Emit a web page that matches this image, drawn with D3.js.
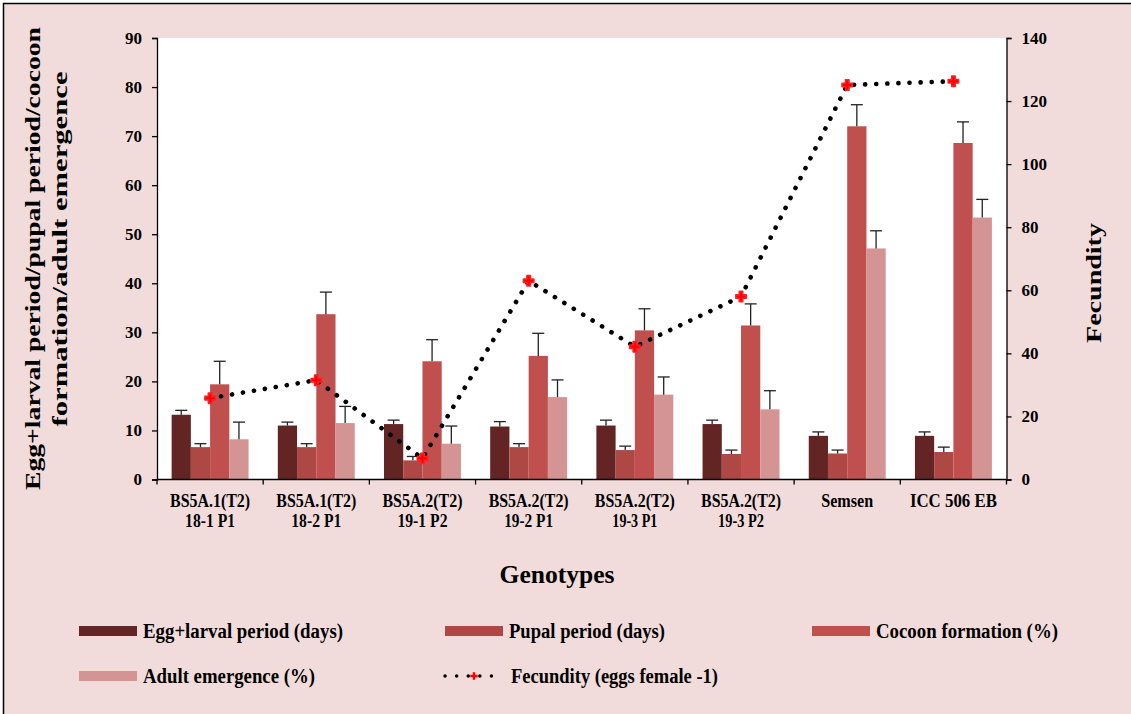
<!DOCTYPE html>
<html>
<head>
<meta charset="utf-8">
<script src="https://cdn.jsdelivr.net/npm/d3@7/dist/d3.min.js"></script>
<style>
  html, body { margin: 0; padding: 0; background: #ffffff; }
  svg { display: block; }
  text { font-family: "Liberation Serif", "Times New Roman", serif; font-weight: bold; fill: #000; }
</style>
</head>
<body>
<svg id="chart" width="1131" height="714"></svg>
<script>
// ---------------- DATA ----------------
const categories = [
  ["BS5A.1(T2)", "18-1 P1"],
  ["BS5A.1(T2)", "18-2 P1"],
  ["BS5A.2(T2)", "19-1 P2"],
  ["BS5A.2(T2)", "19-2 P1"],
  ["BS5A.2(T2)", "19-3 P1"],
  ["BS5A.2(T2)", "19-3 P2"],
  ["Semsen"],
  ["ICC 506 EB"]
];
const seriesNames = ["Egg+larval period (days)", "Pupal period (days)", "Cocoon formation (%)", "Adult emergence (%)"];
const eggLarval    = [13.2, 11.0, 11.3, 10.8, 11.0, 11.3, 8.9, 8.9];
const eggLarvalErr = [0.9, 0.7, 0.8, 1.0, 1.1, 0.8, 0.8, 0.8];
const pupal        = [6.6, 6.6, 3.9, 6.6, 6.0, 5.2, 5.3, 5.6];
const pupalErr     = [0.7, 0.7, 0.8, 0.7, 0.8, 0.8, 0.7, 1.0];
const cocoon       = [19.4, 33.7, 24.1, 25.2, 30.4, 31.4, 72.0, 68.6];
const cocoonErr    = [4.7, 4.5, 4.4, 4.6, 4.4, 4.4, 4.4, 4.3];
const adult        = [8.2, 11.5, 7.3, 16.8, 17.3, 14.3, 47.1, 53.4];
const adultErr     = [3.5, 3.4, 3.6, 3.5, 3.6, 3.8, 3.6, 3.7];
const fecundity    = [25.8, 31.5, 6.7, 63.0, 42.1, 58.0, 125.1, 126.3];
const fecundityName = "Fecundity (eggs female -1)";
const leftTicks  = [0, 10, 20, 30, 40, 50, 60, 70, 80, 90];
const rightTicks = [0, 20, 40, 60, 80, 100, 120, 140];
const leftTitle  = ["Egg+larval period/pupal period/cocoon", "formation/adult emergence"];
const rightTitle = "Fecundity";
const xTitle     = "Genotypes";

// ---------------- STYLE ----------------
const colors = ["#632523", "#AD4845", "#C0504D", "#D49493"];
const W = 1131, H = 714;
const M = { left: 157, right: 1006.5, top: 38, bottom: 479.5 };

const svg = d3.select("#chart");

// background
svg.append("rect").attr("x", 0).attr("y", 0).attr("width", W).attr("height", H).attr("fill", "#ffffff");
svg.append("rect").attr("x", 3.5).attr("y", 3.5).attr("width", W + 10).attr("height", H + 10)
  .attr("fill", "#F2DCDB").attr("stroke", "#000").attr("stroke-width", 1.5);
svg.append("rect").attr("x", M.left).attr("y", M.top).attr("width", M.right - M.left).attr("height", M.bottom - M.top)
  .attr("fill", "#ffffff");

// scales
const catIdx = categories.map((d, i) => i);
const x0 = d3.scaleBand().domain(catIdx).range([M.left, M.right]).padding(0);
const x1 = d3.scaleBand().domain(d3.range(4)).range([0, x0.bandwidth()]).paddingInner(0).paddingOuter(0.76);
const yL = d3.scaleLinear().domain([0, 90]).range([M.bottom, M.top]);
const yR = d3.scaleLinear().domain([0, 140]).range([M.bottom, M.top]);

const values = [eggLarval, pupal, cocoon, adult];
const errs = [eggLarvalErr, pupalErr, cocoonErr, adultErr];

// bars
values.forEach((vals, s) => {
  svg.append("g").selectAll("rect").data(vals).join("rect")
    .attr("x", (d, i) => x0(i) + x1(s))
    .attr("y", d => yL(d))
    .attr("width", x1.bandwidth())
    .attr("height", d => yL(0) - yL(d))
    .attr("fill", colors[s]);
});

// error bars (upper only)
values.forEach((vals, s) => {
  const g = svg.append("g").attr("stroke", "#222").attr("stroke-width", 1.3);
  vals.forEach((v, i) => {
    const cx = x0(i) + x1(s) + x1.bandwidth() / 2;
    const top = yL(v + errs[s][i]);
    g.append("line").attr("x1", cx).attr("x2", cx).attr("y1", yL(v)).attr("y2", top);
    g.append("line").attr("x1", cx - 6).attr("x2", cx + 6).attr("y1", top).attr("y2", top);
  });
});

// axes
const axL = d3.axisLeft(yL).tickValues(leftTicks).tickSize(5).tickPadding(10);
const gL = svg.append("g").attr("transform", `translate(${M.left},0)`).call(axL);
const axR = d3.axisRight(yR).tickValues(rightTicks).tickSize(5).tickPadding(10);
const gR = svg.append("g").attr("transform", `translate(${M.right},0)`).call(axR);
[gL, gR].forEach(g => {
  g.select(".domain").attr("stroke", "#000").attr("stroke-width", 1.3);
  g.selectAll(".tick line").attr("stroke", "#000").attr("stroke-width", 1.3);
  g.selectAll(".tick text").attr("font-size", 17).attr("font-family", "Liberation Serif").attr("font-weight", "bold").attr("fill", "#000");
});

// bottom axis
const gB = svg.append("g");
gB.append("line").attr("x1", M.left).attr("x2", M.right).attr("y1", M.bottom).attr("y2", M.bottom)
  .attr("stroke", "#000").attr("stroke-width", 1.3);
const bounds = d3.range(categories.length + 1).map(i => i < categories.length ? x0(i) : x0(i - 1) + x0.bandwidth());
gB.selectAll("line.tk").data(bounds).join("line").attr("class", "tk")
  .attr("x1", d => d).attr("x2", d => d).attr("y1", M.bottom).attr("y2", M.bottom + 5)
  .attr("stroke", "#000").attr("stroke-width", 1.3);

// category labels
const catWidths = {
  "BS5A.1(T2)": 80, "BS5A.2(T2)": 80, "18-1 P1": 50, "18-2 P1": 50, "19-1 P2": 50, "19-2 P1": 49,
  "19-3 P1": 45, "19-3 P2": 46, "Semsen": 52, "ICC 506 EB": 87
};
categories.forEach((lines, i) => {
  const cx = x0(i) + x0.bandwidth() / 2;
  lines.forEach((ln, j) => {
    svg.append("text").attr("x", cx).attr("y", 506.5 + j * 20).attr("text-anchor", "middle")
      .attr("font-size", 18).attr("textLength", catWidths[ln]).attr("lengthAdjust", "spacingAndGlyphs")
      .text(ln);
  });
});

// fecundity dotted line
const line = d3.line().x((d, i) => x0(i) + x0.bandwidth() / 2).y(d => yR(d));
svg.append("path").datum(fecundity).attr("d", line)
  .attr("fill", "none").attr("stroke", "#000").attr("stroke-width", 4.6)
  .attr("stroke-linecap", "round").attr("stroke-dasharray", "0.1 11");

// markers (red rounded cross with soft white halo)
const star = d3.symbol().type(d3.symbolCross).size(60);
svg.append("g").selectAll("path").data(fecundity).join("path")
  .attr("transform", (d, i) => `translate(${x0(i) + x0.bandwidth() / 2},${yR(d)})`)
  .attr("d", star).attr("fill", "#FF0000").attr("stroke", "#FF2020").attr("stroke-width", 1.6)
  .attr("stroke-linejoin", "round");

// axis titles
svg.append("text").attr("x", 557).attr("y", 583).attr("text-anchor", "middle")
  .attr("font-size", 26).attr("textLength", 115).attr("lengthAdjust", "spacingAndGlyphs").text(xTitle);
svg.append("text").attr("transform", "translate(40,258.5) rotate(-90)").attr("text-anchor", "middle")
  .attr("font-size", 21).attr("textLength", 463).attr("lengthAdjust", "spacingAndGlyphs").text(leftTitle[0]);
svg.append("text").attr("transform", "translate(67,249) rotate(-90)").attr("text-anchor", "middle")
  .attr("font-size", 21).attr("textLength", 355).attr("lengthAdjust", "spacingAndGlyphs").text(leftTitle[1]);
svg.append("text").attr("transform", "translate(1101,283) rotate(-90)").attr("text-anchor", "middle")
  .attr("font-size", 21).attr("textLength", 120).attr("lengthAdjust", "spacingAndGlyphs").text(rightTitle);

// legend
const legendItems = [
  { name: seriesNames[0], color: colors[0], x: 79, y: 631, w: 200 },
  { name: seriesNames[1], color: colors[1], x: 445, y: 631, w: 156 },
  { name: seriesNames[2], color: colors[2], x: 812, y: 631, w: 182 },
  { name: seriesNames[3], color: colors[3], x: 79, y: 676, w: 172 },
  { name: fecundityName, color: null, x: 443, y: 676, w: 207 }
];
const lg = svg.append("g");
legendItems.forEach(it => {
  if (it.color) {
    lg.append("rect").attr("x", it.x).attr("y", it.y - 5).attr("width", 58).attr("height", 10).attr("fill", it.color);
  } else {
    lg.append("line").attr("x1", it.x + 2).attr("x2", it.x + 60).attr("y1", it.y).attr("y2", it.y)
      .attr("stroke", "#000").attr("stroke-width", 3.4).attr("stroke-linecap", "round").attr("stroke-dasharray", "0.1 11.5");
    lg.append("path").attr("transform", `translate(${it.x + 31},${it.y})`)
      .attr("d", d3.symbol().type(d3.symbolCross).size(30)).attr("fill", "#FF0000");
  }
  lg.append("text").attr("x", it.x + (it.color ? 64 : 68)).attr("y", it.y + 7).attr("font-size", 20)
    .attr("textLength", it.w).attr("lengthAdjust", "spacingAndGlyphs").text(it.name);
});
</script>
</body>
</html>
